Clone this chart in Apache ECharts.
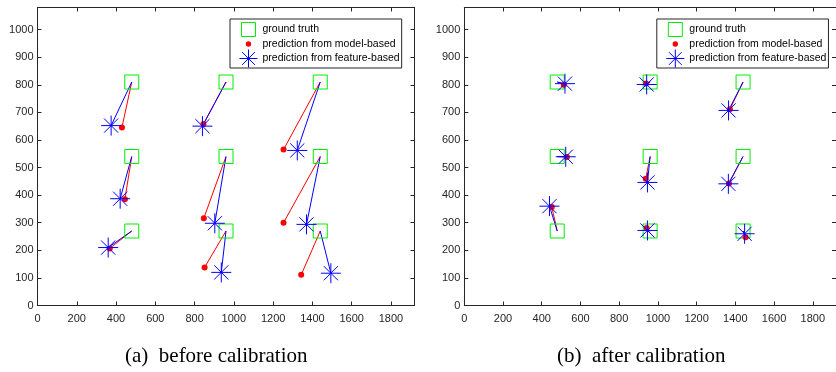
<!DOCTYPE html>
<html>
<head>
<meta charset="utf-8">
<script src="https://cdn.jsdelivr.net/npm/echarts@6/dist/echarts.min.js"></script>
<style>
  html, body {margin: 0; padding: 0; background: #fff;}
  #chart {width: 836px; height: 372px;}
</style>
</head>
<body>
<div id="chart"></div>
<script>
// ground truth positions (same in both panels)
const groundTruth = [[480, 810], [960, 810], [1440, 810], [480, 540], [960, 540], [1440, 540], [480, 270], [960, 270], [1440, 270]];

// (a) before calibration
const modelBefore = [[430, 645], [845, 658], [1253, 565], [445, 385], [847, 316], [1253, 300], [368, 207], [851, 138], [1343, 111]];
const featureBefore = [[375, 652], [840, 650], [1323, 562], [421, 387], [903, 298], [1370, 294], [360, 210], [936, 120], [1494, 117]];

// (b) after calibration
const modelAfter = [[514, 800], [939, 805], [1372, 711], [530, 538], [937, 459], [1367, 442], [452, 357], [942, 281], [1453, 247]];
const featureAfter = [[520, 804], [942, 801], [1365, 707], [524, 539], [946, 446], [1364, 441], [440, 360], [946, 272], [1448, 260]];

const captions = ['(a)  before calibration', '(b)  after calibration'];
const xTicks = {min: 0, max: 1920, interval: 200};
const yTicks = {min: 0, max: 1080, interval: 100};

const GT = 'ground truth';
const MB = 'prediction from model-based';
const FB = 'prediction from feature-based';

const STAR = 'path://M0,-10L0,10M-10,0L10,0M-7.07,-7.07L7.07,7.07M-7.07,7.07L7.07,-7.07';
const axisColor = '#262626';

var myChart = echarts.init(document.getElementById('chart'));

const panels = [
    {model: modelBefore, feature: featureBefore, left: 37.5, capX: 125},
    {model: modelAfter, feature: featureAfter, left: 464.3, capX: 557}
];

function segs(pred) {
    return pred.map((p, i) => ({coords: [groundTruth[i], p]}));
}

const grid = [], xAxis = [], yAxis = [], series = [], legend = [], graphic = [];

panels.forEach((p, k) => {
    grid.push({left: p.left, top: 7.5, width: 377, height: 298});
    ['bottom', 'top'].forEach((pos, j) => {
        xAxis.push({
            type: 'value', gridIndex: k, position: pos, ...xTicks,
            axisLine: {show: true, onZero: false, lineStyle: {color: axisColor, width: 1}},
            axisTick: {show: true, inside: true, length: 4, lineStyle: {color: axisColor}},
            axisLabel: {show: j === 0, showMaxLabel: false, margin: 8, fontSize: 11,
                color: axisColor, fontFamily: 'Liberation Sans', formatter: v => String(v)},
            splitLine: {show: false}
        });
    });
    ['left', 'right'].forEach((pos, j) => {
        yAxis.push({
            type: 'value', gridIndex: k, position: pos, ...yTicks,
            axisLine: {show: true, onZero: false, lineStyle: {color: axisColor, width: 1}},
            axisTick: {show: true, inside: true, length: 4, lineStyle: {color: axisColor}},
            axisLabel: {show: j === 0, showMaxLabel: false, margin: 4, fontSize: 11,
                color: axisColor, fontFamily: 'Liberation Sans', formatter: v => String(v)},
            splitLine: {show: false}
        });
    });
    const xi = k * 2, yi = k * 2;
    series.push(
        {
            name: GT, type: 'scatter', xAxisIndex: xi, yAxisIndex: yi,
            symbol: 'rect', symbolSize: 14, data: groundTruth,
            itemStyle: {color: 'rgba(0,0,0,0)', borderColor: '#00ee00', borderWidth: 1, opacity: 1}
        },
        {
            name: 'model line', type: 'lines', coordinateSystem: 'cartesian2d',
            xAxisIndex: xi, yAxisIndex: yi, data: segs(p.model),
            lineStyle: {color: '#ff0000', width: 1, opacity: 1}
        },
        {
            name: 'feature line', type: 'lines', coordinateSystem: 'cartesian2d',
            xAxisIndex: xi, yAxisIndex: yi, data: segs(p.feature),
            lineStyle: {color: '#0000ff', width: 1, opacity: 1}
        },
        {
            name: MB, type: 'scatter', xAxisIndex: xi, yAxisIndex: yi,
            symbol: 'circle', symbolSize: 6, data: p.model,
            itemStyle: {color: '#ff0000', opacity: 1}
        },
        {
            name: FB, type: 'scatter', xAxisIndex: xi, yAxisIndex: yi,
            symbol: STAR, symbolSize: 20, data: p.feature,
            itemStyle: {color: 'rgba(0,0,0,0)', borderColor: '#0000ff', borderWidth: 1, opacity: 1}
        }
    );
    legend.push({
        orient: 'vertical', left: p.left + 192.5, top: 19,
        itemWidth: 18, itemHeight: 18, itemGap: -4,
        padding: [1, 2, 0, 9],
        borderColor: axisColor, borderWidth: 1, backgroundColor: '#fff',
        selectedMode: false,
        itemStyle: {borderWidth: 1},
        textStyle: {fontSize: 10.5, color: '#000', fontFamily: 'Liberation Sans'},
        data: [
            {name: GT, icon: 'path://M0,0M18,18M2,2L16,2L16,16L2,16Z'},
            {name: MB, icon: 'path://M0,0M18,18M9,6.3A2.7,2.7,0,1,1,9,11.7A2.7,2.7,0,1,1,9,6.3Z'},
            {name: FB, icon: STAR}
        ]
    });
    graphic.push({
        type: 'text', left: p.capX, top: 346,
        style: {text: captions[k], font: '21px "Liberation Serif"', fill: '#000'}
    });
});

myChart.setOption({
    animation: false,
    backgroundColor: '#fff',
    grid, xAxis, yAxis, series, legend, graphic
});
</script>
</body>
</html>
